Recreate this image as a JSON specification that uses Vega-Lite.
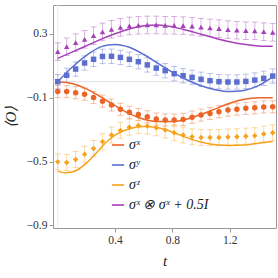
{
  "$schema": "https://vega.github.io/schema/vega-lite/v6.json",
  "width": 223,
  "height": 223,
  "autosize": {"type": "none"},
  "padding": {"left": 53, "top": 5, "right": 2, "bottom": 50},
  "config": {
    "view": {"stroke": "#9a9a9a", "strokeWidth": 1},
    "axis": {
      "domain": false, "grid": false,
      "labelFont": "Liberation Serif", "labelFontSize": 11.5, "labelColor": "#333",
      "tickColor": "#999", "tickSize": 4,
      "titleFont": "Liberation Serif", "titleFontStyle": "italic", "titleFontWeight": "normal",
      "titleFontSize": 15, "titleColor": "#222"
    }
  },
  "resolve": {"legend": {"color": "independent", "shape": "independent"}},
  "datasets": {
    "pts": [
      {"s":"σˣ","t":0,"v":-0.062,"e":0.038},{"s":"σˣ","t":0.0625,"v":-0.062,"e":0.038},{"s":"σˣ","t":0.125,"v":-0.069,"e":0.038},{"s":"σˣ","t":0.1875,"v":-0.078,"e":0.038},{"s":"σˣ","t":0.25,"v":-0.099,"e":0.038},{"s":"σˣ","t":0.3125,"v":-0.122,"e":0.038},{"s":"σˣ","t":0.375,"v":-0.146,"e":0.038},{"s":"σˣ","t":0.4375,"v":-0.173,"e":0.038},{"s":"σˣ","t":0.5,"v":-0.192,"e":0.038},{"s":"σˣ","t":0.5625,"v":-0.205,"e":0.038},{"s":"σˣ","t":0.625,"v":-0.22,"e":0.038},{"s":"σˣ","t":0.6875,"v":-0.234,"e":0.038},{"s":"σˣ","t":0.75,"v":-0.24,"e":0.038},{"s":"σˣ","t":0.8125,"v":-0.24,"e":0.038},{"s":"σˣ","t":0.875,"v":-0.236,"e":0.038},{"s":"σˣ","t":0.9375,"v":-0.222,"e":0.038},{"s":"σˣ","t":1.0,"v":-0.209,"e":0.038},{"s":"σˣ","t":1.0625,"v":-0.199,"e":0.038},{"s":"σˣ","t":1.125,"v":-0.188,"e":0.038},{"s":"σˣ","t":1.1875,"v":-0.178,"e":0.038},{"s":"σˣ","t":1.25,"v":-0.172,"e":0.038},{"s":"σˣ","t":1.3125,"v":-0.167,"e":0.038},{"s":"σˣ","t":1.375,"v":-0.163,"e":0.038},{"s":"σˣ","t":1.4375,"v":-0.158,"e":0.038},{"s":"σˣ","t":1.5,"v":-0.157,"e":0.038},
      {"s":"σʸ","t":0,"v":0.0,"e":0.045},{"s":"σʸ","t":0.0625,"v":0.04,"e":0.045},{"s":"σʸ","t":0.125,"v":0.079,"e":0.045},{"s":"σʸ","t":0.1875,"v":0.117,"e":0.045},{"s":"σʸ","t":0.25,"v":0.14,"e":0.045},{"s":"σʸ","t":0.3125,"v":0.158,"e":0.045},{"s":"σʸ","t":0.375,"v":0.159,"e":0.045},{"s":"σʸ","t":0.4375,"v":0.152,"e":0.045},{"s":"σʸ","t":0.5,"v":0.14,"e":0.045},{"s":"σʸ","t":0.5625,"v":0.125,"e":0.045},{"s":"σʸ","t":0.625,"v":0.105,"e":0.045},{"s":"σʸ","t":0.6875,"v":0.085,"e":0.045},{"s":"σʸ","t":0.75,"v":0.069,"e":0.045},{"s":"σʸ","t":0.8125,"v":0.05,"e":0.045},{"s":"σʸ","t":0.875,"v":0.037,"e":0.045},{"s":"σʸ","t":0.9375,"v":0.027,"e":0.045},{"s":"σʸ","t":1.0,"v":0.015,"e":0.045},{"s":"σʸ","t":1.0625,"v":0.006,"e":0.045},{"s":"σʸ","t":1.125,"v":0.0,"e":0.045},{"s":"σʸ","t":1.1875,"v":-0.002,"e":0.045},{"s":"σʸ","t":1.25,"v":-0.002,"e":0.045},{"s":"σʸ","t":1.3125,"v":0.002,"e":0.045},{"s":"σʸ","t":1.375,"v":0.01,"e":0.045},{"s":"σʸ","t":1.4375,"v":0.021,"e":0.045},{"s":"σʸ","t":1.5,"v":0.035,"e":0.045},
      {"s":"σᶻ","t":0,"v":-0.502,"e":0.05},{"s":"σᶻ","t":0.0625,"v":-0.506,"e":0.05},{"s":"σᶻ","t":0.125,"v":-0.487,"e":0.05},{"s":"σᶻ","t":0.1875,"v":-0.454,"e":0.05},{"s":"σᶻ","t":0.25,"v":-0.418,"e":0.05},{"s":"σᶻ","t":0.3125,"v":-0.376,"e":0.05},{"s":"σᶻ","t":0.375,"v":-0.334,"e":0.05},{"s":"σᶻ","t":0.4375,"v":-0.305,"e":0.05},{"s":"σᶻ","t":0.5,"v":-0.285,"e":0.05},{"s":"σᶻ","t":0.5625,"v":-0.274,"e":0.05},{"s":"σᶻ","t":0.625,"v":-0.278,"e":0.05},{"s":"σᶻ","t":0.6875,"v":-0.289,"e":0.05},{"s":"σᶻ","t":0.75,"v":-0.303,"e":0.05},{"s":"σᶻ","t":0.8125,"v":-0.32,"e":0.05},{"s":"σᶻ","t":0.875,"v":-0.334,"e":0.05},{"s":"σᶻ","t":0.9375,"v":-0.345,"e":0.05},{"s":"σᶻ","t":1.0,"v":-0.349,"e":0.05},{"s":"σᶻ","t":1.0625,"v":-0.35,"e":0.05},{"s":"σᶻ","t":1.125,"v":-0.35,"e":0.05},{"s":"σᶻ","t":1.1875,"v":-0.347,"e":0.05},{"s":"σᶻ","t":1.25,"v":-0.345,"e":0.05},{"s":"σᶻ","t":1.3125,"v":-0.341,"e":0.05},{"s":"σᶻ","t":1.375,"v":-0.338,"e":0.05},{"s":"σᶻ","t":1.4375,"v":-0.328,"e":0.05},{"s":"σᶻ","t":1.5,"v":-0.32,"e":0.05},
      {"s":"σˣ ⊗ σˣ + 0.5I","t":0,"v":0.188,"e":0.055},{"s":"σˣ ⊗ σˣ + 0.5I","t":0.0625,"v":0.219,"e":0.055},{"s":"σˣ ⊗ σˣ + 0.5I","t":0.125,"v":0.244,"e":0.055},{"s":"σˣ ⊗ σˣ + 0.5I","t":0.1875,"v":0.265,"e":0.055},{"s":"σˣ ⊗ σˣ + 0.5I","t":0.25,"v":0.288,"e":0.055},{"s":"σˣ ⊗ σˣ + 0.5I","t":0.3125,"v":0.311,"e":0.055},{"s":"σˣ ⊗ σˣ + 0.5I","t":0.375,"v":0.328,"e":0.055},{"s":"σˣ ⊗ σˣ + 0.5I","t":0.4375,"v":0.34,"e":0.055},{"s":"σˣ ⊗ σˣ + 0.5I","t":0.5,"v":0.349,"e":0.055},{"s":"σˣ ⊗ σˣ + 0.5I","t":0.5625,"v":0.353,"e":0.055},{"s":"σˣ ⊗ σˣ + 0.5I","t":0.625,"v":0.355,"e":0.055},{"s":"σˣ ⊗ σˣ + 0.5I","t":0.6875,"v":0.355,"e":0.055},{"s":"σˣ ⊗ σˣ + 0.5I","t":0.75,"v":0.353,"e":0.055},{"s":"σˣ ⊗ σˣ + 0.5I","t":0.8125,"v":0.353,"e":0.055},{"s":"σˣ ⊗ σˣ + 0.5I","t":0.875,"v":0.351,"e":0.055},{"s":"σˣ ⊗ σˣ + 0.5I","t":0.9375,"v":0.347,"e":0.055},{"s":"σˣ ⊗ σˣ + 0.5I","t":1.0,"v":0.341,"e":0.055},{"s":"σˣ ⊗ σˣ + 0.5I","t":1.0625,"v":0.336,"e":0.055},{"s":"σˣ ⊗ σˣ + 0.5I","t":1.125,"v":0.332,"e":0.055},{"s":"σˣ ⊗ σˣ + 0.5I","t":1.1875,"v":0.326,"e":0.055},{"s":"σˣ ⊗ σˣ + 0.5I","t":1.25,"v":0.322,"e":0.055},{"s":"σˣ ⊗ σˣ + 0.5I","t":1.3125,"v":0.319,"e":0.055},{"s":"σˣ ⊗ σˣ + 0.5I","t":1.375,"v":0.318,"e":0.055},{"s":"σˣ ⊗ σˣ + 0.5I","t":1.4375,"v":0.313,"e":0.055},{"s":"σˣ ⊗ σˣ + 0.5I","t":1.5,"v":0.309,"e":0.055}
    ],
    "th": [
      {"s":"σˣ","t":0,"v":0},{"s":"σˣ","t":0.1,"v":-0.012},{"s":"σˣ","t":0.2,"v":-0.045},{"s":"σˣ","t":0.3,"v":-0.095},{"s":"σˣ","t":0.4,"v":-0.15},{"s":"σˣ","t":0.5,"v":-0.2},{"s":"σˣ","t":0.6,"v":-0.235},{"s":"σˣ","t":0.7,"v":-0.25},{"s":"σˣ","t":0.8,"v":-0.25},{"s":"σˣ","t":0.9,"v":-0.235},{"s":"σˣ","t":1.0,"v":-0.205},{"s":"σˣ","t":1.1,"v":-0.17},{"s":"σˣ","t":1.2,"v":-0.135},{"s":"σˣ","t":1.3,"v":-0.11},{"s":"σˣ","t":1.4,"v":-0.1},{"s":"σˣ","t":1.5,"v":-0.1},
      {"s":"σʸ","t":0,"v":0},{"s":"σʸ","t":0.1,"v":0.09},{"s":"σʸ","t":0.2,"v":0.165},{"s":"σʸ","t":0.3,"v":0.218},{"s":"σʸ","t":0.35,"v":0.23},{"s":"σʸ","t":0.4,"v":0.233},{"s":"σʸ","t":0.5,"v":0.215},{"s":"σʸ","t":0.6,"v":0.17},{"s":"σʸ","t":0.7,"v":0.115},{"s":"σʸ","t":0.8,"v":0.06},{"s":"σʸ","t":0.9,"v":0.012},{"s":"σʸ","t":1.0,"v":-0.025},{"s":"σʸ","t":1.1,"v":-0.05},{"s":"σʸ","t":1.2,"v":-0.062},{"s":"σʸ","t":1.3,"v":-0.055},{"s":"σʸ","t":1.4,"v":-0.025},{"s":"σʸ","t":1.5,"v":0.03},
      {"s":"σᶻ","t":0,"v":-0.56},{"s":"σᶻ","t":0.05,"v":-0.57},{"s":"σᶻ","t":0.1,"v":-0.565},{"s":"σᶻ","t":0.15,"v":-0.545},{"s":"σᶻ","t":0.2,"v":-0.51},{"s":"σᶻ","t":0.25,"v":-0.465},{"s":"σᶻ","t":0.3,"v":-0.415},{"s":"σᶻ","t":0.35,"v":-0.37},{"s":"σᶻ","t":0.4,"v":-0.335},{"s":"σᶻ","t":0.5,"v":-0.295},{"s":"σᶻ","t":0.6,"v":-0.28},{"s":"σᶻ","t":0.7,"v":-0.288},{"s":"σᶻ","t":0.8,"v":-0.315},{"s":"σᶻ","t":0.9,"v":-0.35},{"s":"σᶻ","t":1.0,"v":-0.378},{"s":"σᶻ","t":1.1,"v":-0.395},{"s":"σᶻ","t":1.2,"v":-0.4},{"s":"σᶻ","t":1.3,"v":-0.397},{"s":"σᶻ","t":1.4,"v":-0.385},{"s":"σᶻ","t":1.5,"v":-0.375},
      {"s":"σˣ ⊗ σˣ + 0.5I","t":0,"v":0.146},{"s":"σˣ ⊗ σˣ + 0.5I","t":0.1,"v":0.185},{"s":"σˣ ⊗ σˣ + 0.5I","t":0.2,"v":0.225},{"s":"σˣ ⊗ σˣ + 0.5I","t":0.3,"v":0.265},{"s":"σˣ ⊗ σˣ + 0.5I","t":0.4,"v":0.3},{"s":"σˣ ⊗ σˣ + 0.5I","t":0.5,"v":0.33},{"s":"σˣ ⊗ σˣ + 0.5I","t":0.6,"v":0.35},{"s":"σˣ ⊗ σˣ + 0.5I","t":0.7,"v":0.355},{"s":"σˣ ⊗ σˣ + 0.5I","t":0.8,"v":0.343},{"s":"σˣ ⊗ σˣ + 0.5I","t":0.9,"v":0.322},{"s":"σˣ ⊗ σˣ + 0.5I","t":1.0,"v":0.297},{"s":"σˣ ⊗ σˣ + 0.5I","t":1.1,"v":0.272},{"s":"σˣ ⊗ σˣ + 0.5I","t":1.2,"v":0.25},{"s":"σˣ ⊗ σˣ + 0.5I","t":1.3,"v":0.234},{"s":"σˣ ⊗ σˣ + 0.5I","t":1.4,"v":0.224},{"s":"σˣ ⊗ σˣ + 0.5I","t":1.5,"v":0.221}
    ]
  },
  "layer": [
    {
      "data": {"values": [{"v": 0}]},
      "mark": {"type": "rule", "color": "#e2e2e2", "strokeWidth": 1},
      "encoding": {
        "y": {"field": "v", "type": "quantitative", "title": "⟨O⟩",
              "scale": {"domain": [-0.916, 0.48], "nice": false, "zero": false},
              "axis": {"values": [-0.9, -0.7, -0.5, -0.3, -0.1, 0.1, 0.3], "format": ".1f", "labelPadding": 2, "titlePadding": 8}}
      }
    },
    {
      "data": {"values": [{"t": 0}]},
      "mark": {"type": "rule", "color": "#ececec", "strokeWidth": 1},
      "encoding": {
        "x": {"field": "t", "type": "quantitative", "title": "t",
              "scale": {"domain": [-0.033, 1.523], "nice": false, "zero": false},
              "axis": {"values": [0.4, 0.8, 1.2], "format": ".1f", "labelPadding": 2, "titlePadding": 8}}
      }
    },
    {
      "data": {"name": "pts"},
      "mark": {"type": "errorbar", "ticks": {"size": 6, "opacity": 0.4}, "rule": {"opacity": 0.4}, "thickness": 1},
      "encoding": {
        "x": {"field": "t", "type": "quantitative", "title": "t"},
        "y": {"field": "v", "type": "quantitative", "title": "⟨O⟩"},
        "yError": {"field": "e"},
        "color": {"field": "s", "type": "nominal", "legend": null}
      }
    },
    {
      "data": {"name": "th"},
      "mark": {"type": "line", "interpolate": "monotone", "strokeWidth": 1.5},
      "encoding": {
        "x": {"field": "t", "type": "quantitative", "title": "t"},
        "y": {"field": "v", "type": "quantitative", "title": "⟨O⟩"},
        "color": {"field": "s", "type": "nominal",
          "scale": {"domain": ["σˣ", "σʸ", "σᶻ", "σˣ ⊗ σˣ + 0.5I"], "range": ["#ec6425", "#5c6fd0", "#f7a21b", "#a640b8"]},
          "legend": {"orient": "none", "legendX": 58, "legendY": 133, "title": null, "symbolType": "stroke", "symbolSize": 150, "symbolStrokeWidth": 1.6, "labelFont": "Liberation Serif", "labelFontSize": 14, "labelFontStyle": "italic", "labelColor": "#222", "rowPadding": 6, "labelOffset": 4}}
      }
    },
    {
      "data": {"name": "pts"},
      "mark": {"type": "point", "filled": true, "size": 30, "opacity": 1},
      "encoding": {
        "x": {"field": "t", "type": "quantitative", "title": "t"},
        "y": {"field": "v", "type": "quantitative", "title": "⟨O⟩"},
        "color": {"field": "s", "type": "nominal", "legend": null},
        "shape": {"field": "s", "type": "nominal",
          "scale": {"domain": ["σˣ", "σʸ", "σᶻ", "σˣ ⊗ σˣ + 0.5I"], "range": ["circle", "square", "diamond", "triangle-up"]},
          "legend": null}
      }
    }
  ]
}
